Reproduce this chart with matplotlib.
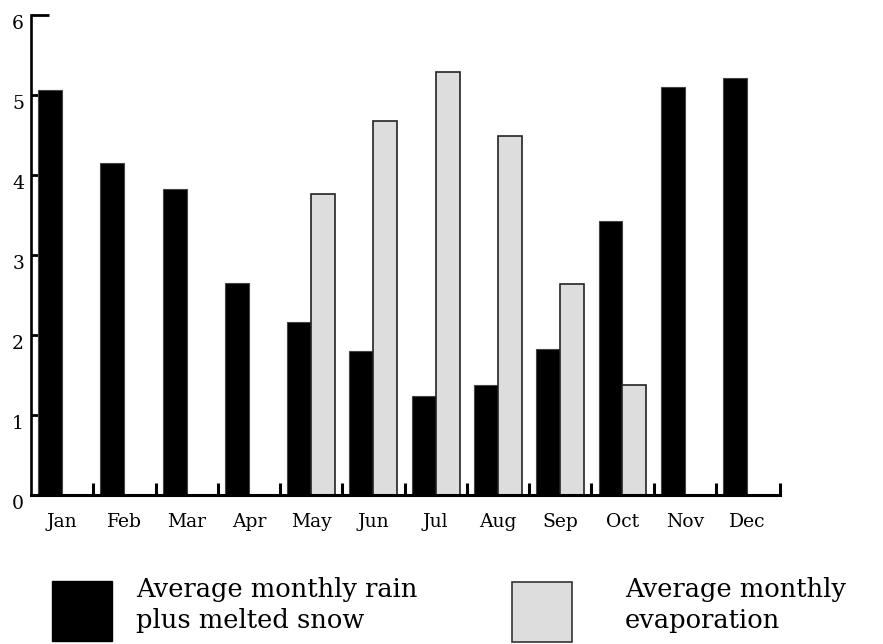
import matplotlib
matplotlib.use("Agg")
import matplotlib.pyplot as plt
import matplotlib.transforms as mtransforms
from matplotlib.patches import Rectangle

# Data
months = ["Jan", "Feb", "Mar", "Apr", "May", "Jun",
          "Jul", "Aug", "Sep", "Oct", "Nov", "Dec"]
rain_snow = [5.06, 4.15, 3.83, 2.65, 2.16, 1.80,
             1.24, 1.37, 1.82, 3.43, 5.10, 5.21]
evaporation = [0, 0, 0, 0, 3.76, 4.68,
               5.29, 4.49, 2.64, 1.38, 0, 0]
yticks = [0, 1, 2, 3, 4, 5, 6]
legend_labels = [["Average monthly rain", "plus melted snow"],
                 ["Average monthly", "evaporation"]]

plt.rcParams["font.family"] = "DejaVu Serif"

fig = plt.figure(figsize=(8.83, 6.44), dpi=100)
ax = fig.add_axes([31 / 883, 149 / 644, 749 / 883, 480 / 644])

x = list(range(len(months)))
w = 0.385
ax.bar([i - w / 2 for i in x if rain_snow[i] > 0],
       [v for v in rain_snow if v > 0], width=w, color="black",
       edgecolor="#444444", linewidth=0.8, zorder=2)
ax.bar([i + w / 2 for i in x if evaporation[i] > 0],
       [v for v in evaporation if v > 0], width=w, color="#dddddd",
       edgecolor="#222222", linewidth=1.2, zorder=2)

right = 11.53
ax.set_xlim(-0.5, right)
ax.set_ylim(0, 6)

for s in ["top", "right"]:
    ax.spines[s].set_visible(False)
ax.spines["left"].set_linewidth(1.9)
ax.spines["bottom"].set_linewidth(2.2)
ax.set_axisbelow(True)

# month labels centred on each pair, separators as minor ticks
ax.set_xticks(x)
ax.set_xticklabels(months, fontsize=13.5)
ax.tick_params(axis="x", which="major", length=0, pad=13)
ax.set_xticks([i - 0.5 for i in x[1:]] + [right], minor=True)
ax.tick_params(axis="x", which="minor", direction="in", length=9, width=2.2)

# y labels sit a little below their ticks
ax.set_yticks(yticks)
ax.set_yticklabels([str(t) for t in yticks], fontsize=13.5)
ax.tick_params(axis="y", direction="in", length=13, width=2, pad=5)
shift = mtransforms.ScaledTranslation(0, -7 / 100, fig.dpi_scale_trans)
for lab in ax.get_yticklabels():
    lab.set_transform(lab.get_transform() + shift)

# legend drawn by hand
fig.patches.append(Rectangle((52 / 883, 3 / 644), 60 / 883, 60 / 644,
                             transform=fig.transFigure, facecolor="black",
                             edgecolor="black", linewidth=1))
fig.patches.append(Rectangle((512 / 883, 2 / 644), 60 / 883, 60 / 644,
                             transform=fig.transFigure, facecolor="#dddddd",
                             edgecolor="#333333", linewidth=1.2))
for xpos, lines in zip([136, 625], legend_labels):
    for k, line in enumerate(lines):
        fig.text(xpos / 883, (644 - 597 - 31 * k) / 644, line,
                 fontsize=18.5, va="baseline", ha="left")

fig.savefig("out.png", dpi=100)
